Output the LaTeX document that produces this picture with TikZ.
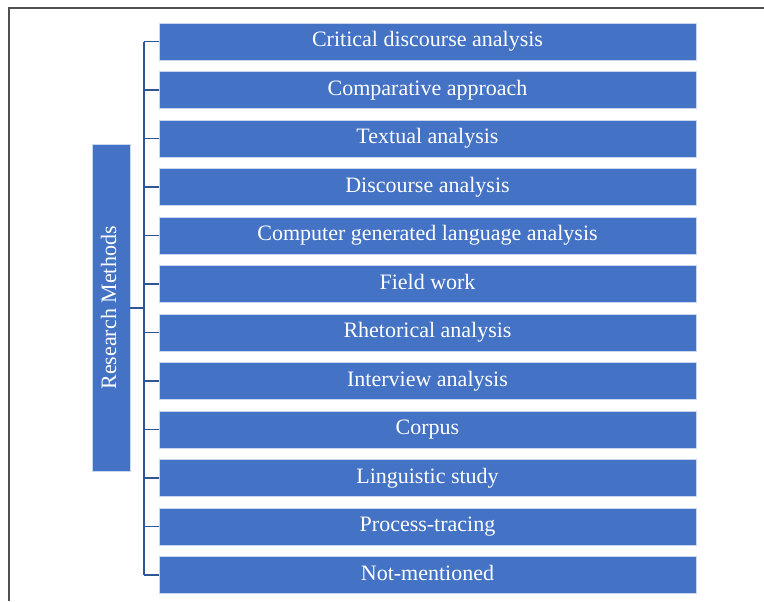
\documentclass[tikz,border=0pt]{standalone}
\usepackage{fontspec}
\setmainfont{Liberation Serif}
\usetikzlibrary{positioning}
\definecolor{boxblue}{HTML}{4472C4}
\definecolor{lineblue}{HTML}{2F5597}
\definecolor{edgeblue}{HTML}{C9D6EE}
\definecolor{framegray}{HTML}{505050}

\begin{document}
\begin{tikzpicture}[x=0.75pt, y=-0.75pt, node distance=8.625pt,
	mbox/.style={draw=edgeblue, line width=0.6pt, fill=boxblue, text=white,
	minimum width=402.75pt, minimum height=27.75pt, inner sep=0pt, outer sep=0pt,
	text height=10.6pt, text depth=2.8pt, font=\fontsize{16.5}{18}\selectfont},
	link/.style={draw=lineblue, line width=1.4pt}]
\useasboundingbox (0,0) rectangle (764,601);
\draw[framegray, line width=1.4pt] (9,601) -- (9,8) -- (764,8);
\node[mbox] (m1) at (427.5, 41.5) {Critical discourse analysis};
\node[mbox, below=of m1] (m2) {Comparative approach};
\node[mbox, below=of m2] (m3) {Textual analysis};
\node[mbox, below=of m3] (m4) {Discourse analysis};
\node[mbox, below=of m4] (m5) {Computer generated language analysis};
\node[mbox, below=of m5] (m6) {Field work};
\node[mbox, below=of m6] (m7) {Rhetorical analysis};
\node[mbox, below=of m7] (m8) {Interview analysis};
\node[mbox, below=of m8] (m9) {Corpus};
\node[mbox, below=of m9] (m10) {Linguistic study};
\node[mbox, below=of m10] (m11) {Process-tracing};
\node[mbox, below=of m11] (m12) {Not-mentioned};
\node[mbox, rotate=90, minimum width=245.25pt, minimum height=28.5pt] (rm) at (111, 308) {Research Methods};
\coordinate (bus) at (144, 308);
\draw[link] (rm.south) -- (bus);
\draw[link] (bus |- m1.west) -- (bus |- m12.west);
\draw[link] (bus |- m1.west) -- (m1.west);
\draw[link] (bus |- m2.west) -- (m2.west);
\draw[link] (bus |- m3.west) -- (m3.west);
\draw[link] (bus |- m4.west) -- (m4.west);
\draw[link] (bus |- m5.west) -- (m5.west);
\draw[link] (bus |- m6.west) -- (m6.west);
\draw[link] (bus |- m7.west) -- (m7.west);
\draw[link] (bus |- m8.west) -- (m8.west);
\draw[link] (bus |- m9.west) -- (m9.west);
\draw[link] (bus |- m10.west) -- (m10.west);
\draw[link] (bus |- m11.west) -- (m11.west);
\draw[link] (bus |- m12.west) -- (m12.west);
\end{tikzpicture}
\end{document}
